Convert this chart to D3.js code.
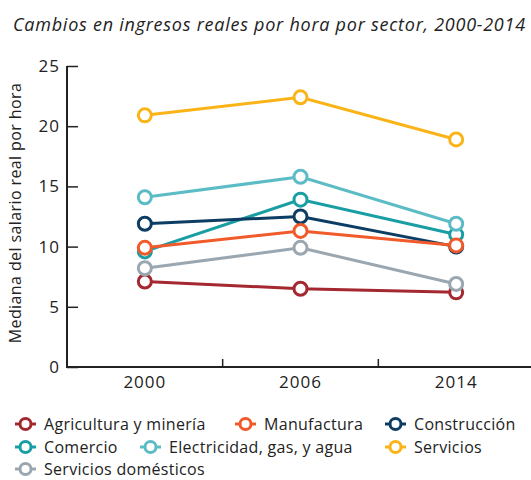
<!DOCTYPE html>
<html>
<head>
<meta charset="UTF-8">
<title>Cambios en ingresos reales por hora</title>
<script src="https://cdn.jsdelivr.net/npm/d3@7"></script>
<style>
  body { margin: 0; background: #fff; }
  text { font-family: "Open Sans", sans-serif; fill: #222; }
</style>
</head>
<body>
<script>
// datos
var years = ["2000", "2006", "2014"];
var sectors = ["Agricultura y minería", "Manufactura", "Construcción", "Comercio",
               "Electricidad, gas, y agua", "Servicios", "Servicios domésticos"];
var colors = ["#a3282f", "#f15a2b", "#0d3d63", "#189ea3", "#5cbcc6", "#fab418", "#9aa7b0"];
var agricultura  = [7.1, 6.5, 6.2];
var manufactura  = [9.9, 11.3, 10.1];
var construccion = [11.9, 12.5, 10.0];
var comercio     = [9.6, 13.9, 11.0];
var electricidad = [14.1, 15.8, 11.9];
var servicios    = [20.9, 22.4, 18.9];
var domesticos   = [8.2, 9.9, 6.9];
var yTicks = [0, 5, 10, 15, 20, 25];

var series = [agricultura, manufactura, construccion, comercio, electricidad, servicios, domesticos];
// orden de dibujo (el ultimo queda encima)
var drawOrder = [0, 6, 3, 2, 4, 1, 5];

var w = 531, h = 480;
var svg = d3.select("body").append("svg").attr("width", w).attr("height", h);

var x = d3.scaleBand().domain(years).range([67, 534]);
var y = d3.scaleLinear().domain([0, 25]).range([367, 66]);

var axisFont = "'Liberation Sans', Arial, sans-serif";

// titulo
svg.append("text")
  .attr("x", 13).attr("y", 31)
  .attr("font-size", "18px").attr("font-style", "italic")
  .attr("letter-spacing", "0.75px")
  .text("Cambios en ingresos reales por hora por sector, 2000-2014");

// eje y
var yAxis = svg.append("g")
  .attr("transform", "translate(67,0)")
  .call(d3.axisLeft(y).tickValues(yTicks).tickSize(-11).tickPadding(7));
yAxis.select(".domain").attr("stroke", "#222").attr("stroke-width", 2).attr("d", "M0,66V368");
yAxis.selectAll(".tick line").attr("stroke", "#222").attr("stroke-width", 1.5);
yAxis.selectAll(".tick text").attr("font-size", "17px").attr("font-family", axisFont)
  .attr("letter-spacing", "1px").attr("fill", "#222");

// eje x
var xAxis = svg.append("g")
  .attr("transform", "translate(0,367)")
  .call(d3.axisBottom(x).tickSize(0).tickPadding(9));
xAxis.select(".domain").attr("stroke", "#222").attr("stroke-width", 2).attr("d", "M66,0H534");
xAxis.selectAll(".tick text").attr("font-size", "17px").attr("font-family", axisFont)
  .attr("letter-spacing", "1px").attr("fill", "#222");
xAxis.selectAll("line.bound")
  .data(years.slice(1))
  .enter().append("line")
  .attr("class", "bound")
  .attr("x1", function(d){ return x(d); })
  .attr("x2", function(d){ return x(d); })
  .attr("y1", 0).attr("y2", -8)
  .attr("stroke", "#222").attr("stroke-width", 1.5);

svg.append("text")
  .attr("transform", "translate(21,213) rotate(-90)")
  .attr("text-anchor", "middle")
  .attr("font-size", "16px")
  .attr("font-family", axisFont)
  .attr("letter-spacing", "0.4px")
  .text("Mediana del salario real por hora");

// lineas
var line = d3.line()
  .x(function(d, i){ return x(years[i]) + x.bandwidth() / 2; })
  .y(function(d){ return y(d); });

drawOrder.forEach(function(k) {
  var g = svg.append("g");
  g.append("path")
    .datum(series[k])
    .attr("d", line)
    .attr("fill", "none")
    .attr("stroke", colors[k])
    .attr("stroke-width", 3);
  g.selectAll("circle")
    .data(series[k])
    .enter().append("circle")
    .attr("cx", function(d, i){ return x(years[i]) + x.bandwidth() / 2; })
    .attr("cy", function(d){ return y(d); })
    .attr("r", 6.5)
    .attr("fill", "#fff")
    .attr("stroke", colors[k])
    .attr("stroke-width", 3);
});

// leyenda
var legendPos = [[15, 424], [235, 424], [385, 424], [15, 447], [140, 447], [385, 447], [15, 469]];
var leg = svg.selectAll("g.leg")
  .data(sectors)
  .enter().append("g")
  .attr("class", "leg")
  .attr("transform", function(d, i){ return "translate(" + legendPos[i][0] + "," + legendPos[i][1] + ")"; });
leg.append("line")
  .attr("x1", 0).attr("x2", 21).attr("y1", 0).attr("y2", 0)
  .attr("stroke", function(d, i){ return colors[i]; })
  .attr("stroke-width", 3);
leg.append("circle")
  .attr("cx", 10.5).attr("cy", 0).attr("r", 5.5)
  .attr("fill", "#fff")
  .attr("stroke", function(d, i){ return colors[i]; })
  .attr("stroke-width", 3);
leg.append("text")
  .attr("x", 29).attr("y", 0).attr("dy", "0.35em")
  .attr("font-size", "16px")
  .attr("letter-spacing", "0.3px")
  .text(function(d){ return d; });
</script>
</body>
</html>
